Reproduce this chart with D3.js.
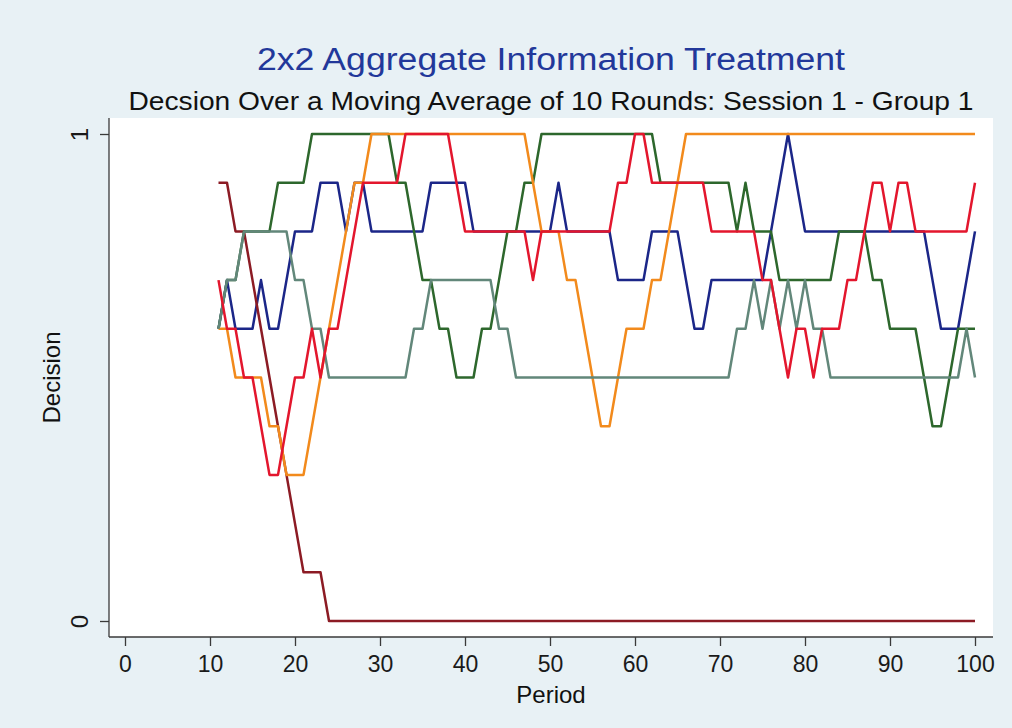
<!DOCTYPE html>
<html>
<head>
<meta charset="utf-8">
<script src="https://cdn.jsdelivr.net/npm/d3@7"></script>
<style>
  html, body { margin: 0; padding: 0; background: #e8f1f5; }
  svg { display: block; font-family: "Liberation Sans", Arial, Helvetica, sans-serif; }
</style>
</head>
<body>
<svg id="chart" width="1012" height="728"></svg>
<script>
// Moving-average decisions (10-round window), periods 11..100
const periods = d3.range(11, 101);

const seriesNames = ["Subject 1", "Subject 2", "Subject 3", "Subject 4", "Subject 5", "Subject 6"];

const navyValues = [
  .6,.7,.6,.6,.6,.7,.6,.6,.7,.8,
  .8,.8,.9,.9,.9,.8,.9,.9,.8,.8,
  .8,.8,.8,.8,.8,.9,.9,.9,.9,.9,
  .8,.8,.8,.8,.8,.8,.8,.8,.8,.8,
  .9,.8,.8,.8,.8,.8,.8,.7,.7,.7,
  .7,.8,.8,.8,.8,.7,.6,.6,.7,.7,
  .7,.7,.7,.7,.7,.8,.9,1,.9,.8,
  .8,.8,.8,.8,.8,.8,.8,.8,.8,.8,
  .8,.8,.8,.8,.7,.6,.6,.6,.7,.8
];

const maroonValues = [
  .9,.9,.8,.8,.7,.6,.5,.4,.3,.2,
  .1,.1,.1,0,0,0,0,0,0,0,
  0,0,0,0,0,0,0,0,0,0,
  0,0,0,0,0,0,0,0,0,0,
  0,0,0,0,0,0,0,0,0,0,
  0,0,0,0,0,0,0,0,0,0,
  0,0,0,0,0,0,0,0,0,0,
  0,0,0,0,0,0,0,0,0,0,
  0,0,0,0,0,0,0,0,0,0
];

const greenValues = [
  .6,.7,.7,.8,.8,.8,.8,.9,.9,.9,
  .9,1,1,1,1,1,1,1,1,1,
  1,.9,.9,.8,.7,.7,.6,.6,.5,.5,
  .5,.6,.6,.7,.8,.8,.9,.9,1,1,
  1,1,1,1,1,1,1,1,1,1,
  1,1,.9,.9,.9,.9,.9,.9,.9,.9,
  .9,.8,.9,.8,.8,.8,.7,.7,.7,.7,
  .7,.7,.7,.8,.8,.8,.8,.7,.7,.6,
  .6,.6,.6,.5,.4,.4,.5,.6,.6,.6
];

const orangeValues = [
  .6,.6,.5,.5,.5,.5,.4,.4,.3,.3,
  .3,.4,.5,.6,.7,.8,.9,.9,1,1,
  1,1,1,1,1,1,1,1,1,1,
  1,1,1,1,1,1,1,.9,.8,.8,
  .8,.7,.7,.6,.5,.4,.4,.5,.6,.6,
  .6,.7,.7,.8,.9,1,1,1,1,1,
  1,1,1,1,1,1,1,1,1,1,
  1,1,1,1,1,1,1,1,1,1,
  1,1,1,1,1,1,1,1,1,1
];

const tealValues = [
  .6,.7,.7,.8,.8,.8,.8,.8,.8,.7,
  .7,.6,.6,.5,.5,.5,.5,.5,.5,.5,
  .5,.5,.5,.6,.6,.7,.7,.7,.7,.7,
  .7,.7,.7,.6,.6,.5,.5,.5,.5,.5,
  .5,.5,.5,.5,.5,.5,.5,.5,.5,.5,
  .5,.5,.5,.5,.5,.5,.5,.5,.5,.5,
  .5,.6,.6,.7,.6,.7,.6,.7,.6,.7,
  .6,.6,.5,.5,.5,.5,.5,.5,.5,.5,
  .5,.5,.5,.5,.5,.5,.5,.5,.6,.5
];

const redValues = [
  .7,.6,.6,.5,.5,.4,.3,.3,.4,.5,
  .5,.6,.5,.6,.6,.7,.8,.9,.9,.9,
  .9,.9,1,1,1,1,1,1,.9,.8,
  .8,.8,.8,.8,.8,.8,.8,.7,.8,.8,
  .8,.8,.8,.8,.8,.8,.8,.9,.9,1,
  1,.9,.9,.9,.9,.9,.9,.9,.8,.8,
  .8,.8,.8,.8,.7,.7,.6,.5,.6,.6,
  .5,.6,.6,.6,.7,.7,.8,.9,.9,.8,
  .9,.9,.8,.8,.8,.8,.8,.8,.8,.9
];

const xTicks = [0, 10, 20, 30, 40, 50, 60, 70, 80, 90, 100];
const yTicks = [0, 1];

const titleText = "2x2 Aggregate Information Treatment";
const subtitleText = "Decsion Over a Moving Average of 10 Rounds: Session 1 - Group 1";
const xTitle = "Period";
const yTitle = "Decision";

// Drawing order: later series paint over earlier ones
const seriesValues = [navyValues, maroonValues, greenValues, orangeValues, tealValues, redValues];
const seriesColors = ["#1b2688", "#8c1b24", "#2d672c", "#f28a1c", "#62877a", "#e3162d"];

const svg = d3.select("#chart");
const W = 1012, H = 728;

// Plot region and data area
const plot = { left: 109, right: 993, top: 118, bottom: 637 };
const x = d3.scaleLinear().domain([0, 100]).range([125, 975]);
const y = d3.scaleLinear().domain([0, 1]).range([621, 134]);

svg.append("rect").attr("width", W).attr("height", H).attr("fill", "#e8f1f5");
svg.append("rect")
  .attr("x", plot.left).attr("y", plot.top)
  .attr("width", plot.right - plot.left).attr("height", plot.bottom - plot.top)
  .attr("fill", "#ffffff");

// Series lines
const line = d3.line()
  .x((d, i) => x(periods[i]))
  .y(d => y(d));

svg.append("g")
  .selectAll("path")
  .data(seriesValues)
  .join("path")
  .attr("d", d => line(d))
  .attr("fill", "none")
  .attr("stroke", (d, i) => seriesColors[i])
  .attr("stroke-width", 2.5)
  .attr("stroke-linejoin", "round")
  .append("title").text((d, i) => seriesNames[i]);

// Axes
const xAxis = d3.axisBottom(x).tickValues(xTicks).tickSize(9).tickPadding(10).tickFormat(d3.format("d"));
const gx = svg.append("g").attr("transform", `translate(0,${plot.bottom})`).call(xAxis);
gx.select(".domain").attr("d", `M${plot.left},0H${plot.right}`);

const yAxis = d3.axisLeft(y).tickValues(yTicks).tickSize(9).tickFormat(d3.format("d"));
const gy = svg.append("g").attr("transform", `translate(${plot.left},0)`).call(yAxis);
gy.select(".domain").attr("d", `M0,${plot.top}V${plot.bottom}`);

svg.selectAll(".domain").attr("stroke", "#3a3a3a").attr("stroke-width", 1.3);
svg.selectAll(".tick line").attr("stroke", "#3a3a3a").attr("stroke-width", 1.3);

gx.selectAll(".tick text")
  .attr("font-size", 23)
  .attr("fill", "#1a1a1a")
  .attr("font-family", "Liberation Sans, Arial, sans-serif");

gy.selectAll(".tick text")
  .attr("font-size", 24)
  .attr("fill", "#1a1a1a")
  .attr("font-family", "Liberation Sans, Arial, sans-serif")
  .attr("text-anchor", "middle")
  .attr("x", null).attr("dy", null)
  .attr("transform", "translate(-21,0) rotate(-90)");

// Titles
const cx = (plot.left + plot.right) / 2;
svg.append("text")
  .attr("x", cx).attr("y", 70)
  .attr("text-anchor", "middle")
  .attr("font-size", 31)
  .attr("fill", "#22389a")
  .attr("textLength", 588).attr("lengthAdjust", "spacingAndGlyphs")
  .text(titleText);

svg.append("text")
  .attr("x", cx).attr("y", 110)
  .attr("text-anchor", "middle")
  .attr("font-size", 25)
  .attr("fill", "#111")
  .attr("textLength", 845).attr("lengthAdjust", "spacingAndGlyphs")
  .text(subtitleText);

svg.append("text")
  .attr("x", cx).attr("y", 703)
  .attr("text-anchor", "middle")
  .attr("font-size", 24)
  .attr("fill", "#111")
  .text(xTitle);

svg.append("text")
  .attr("transform", `translate(60,${(plot.top + plot.bottom) / 2}) rotate(-90)`)
  .attr("text-anchor", "middle")
  .attr("font-size", 24)
  .attr("fill", "#111")
  .text(yTitle);
</script>
</body>
</html>
